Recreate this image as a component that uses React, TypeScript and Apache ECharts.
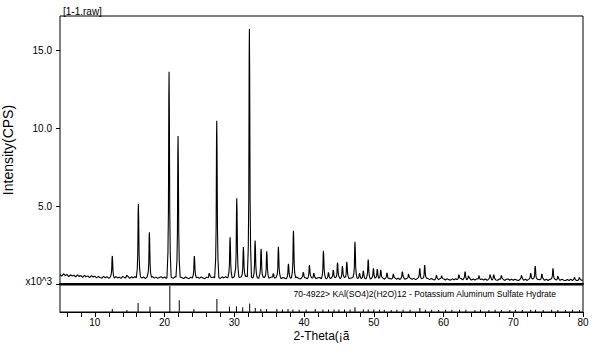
import React, { useEffect, useRef } from "react";
import * as echarts from "echarts";

const TITLE = "[1-1.raw]";
const X_TITLE = "2-Theta(¡ã";
const Y_TITLE = "Intensity(CPS)";
const PHASE_LABEL = "70-4922> KAl(SO4)2(H2O)12 - Potassium Aluminum Sulfate Hydrate";

const X_MIN = 5;
const X_MAX = 80;
const Y_MAX = 17180;

// measured background (counts), every 0.25 deg from 5.0 to 80.0
const BASE_START = 5;
const BASE_STEP = 0.25;
const baselineCounts = [
  600, 500, 660, 530, 620, 470, 590, 510, 560, 450, 580, 480, 540, 430, 560, 460, 520, 410, 540, 450,
  500, 390, 480, 420, 370, 490, 400, 470, 360, 460, 420, 350, 480, 390, 440, 360, 490, 410, 350, 460,
  370, 460, 390, 480, 360, 430, 470, 380, 450, 350, 460, 400, 360, 480, 380, 440, 360, 420, 470, 380,
  450, 370, 470, 390, 450, 360, 480, 400, 360, 460, 400, 350, 450, 380, 340, 440, 370, 460, 380, 430,
  360, 450, 380, 340, 440, 370, 470, 390, 450, 370, 480, 400, 360, 460, 390, 470, 400, 480, 410, 380,
  470, 390, 490, 410, 460, 380, 470, 500, 400, 480, 420, 380, 480, 410, 370, 470, 390, 450, 370, 440,
  360, 440, 380, 340, 430, 370, 450, 350, 420, 370, 330, 430, 360, 420, 340, 410, 440, 350, 330, 420,
  340, 410, 320, 400, 430, 340, 410, 330, 400, 420, 330, 390, 410, 320, 400, 340, 420, 330, 400, 340,
  410, 330, 400, 420, 340, 410, 320, 390, 420, 340, 400, 320, 390, 330, 410, 320, 380, 400, 310, 390,
  320, 390, 300, 380, 320, 400, 310, 370, 290, 380, 320, 300, 390, 310, 370, 290, 360, 380, 300, 360,
  290, 370, 300, 360, 280, 350, 370, 290, 360, 270, 340, 360, 280, 350, 290, 260, 340, 280, 350, 270,
  330, 260, 340, 280, 250, 330, 270, 340, 260, 320, 350, 270, 330, 260, 320, 340, 250, 320, 260, 330,
  270, 250, 330, 260, 320, 240, 310, 330, 250, 320, 260, 240, 320, 250, 310, 230, 300, 320, 240, 300,
  240, 310, 250, 230, 300, 320, 240, 300, 230, 310, 250, 320, 300, 240, 330, 270, 250, 320, 240, 300,
  230, 300, 320, 240, 300, 230, 290, 220, 300, 240, 220, 290, 230, 300, 220, 280, 230, 210, 290, 230,
  260,
];

// measured diffraction peaks: 2-theta (deg) and peak-top intensity (counts)
const peakPositions = [
  12.5, 14.6, 16.24, 17.82, 20.64, 21.93, 24.27, 26.4, 27.48, 29.39,
  30.35, 31.3, 32.16, 32.98, 33.84, 34.65, 35.6, 36.32, 37.76, 38.48,
  39.9, 40.77, 41.4, 42.78, 43.5, 44.2, 44.8, 45.5, 46.13, 47.3,
  47.95, 48.5, 49.2, 49.95, 50.5, 51.0, 51.9, 52.8, 54.1, 55.0,
  56.6, 57.3, 59.0, 59.75, 62.2, 63.1, 63.6, 65.1, 66.7, 67.2,
  68.3, 71.2, 72.5, 73.15, 74.1, 75.7, 76.4, 78.8, 79.5,
];
const peakHeights = [
  1800, 600, 5130, 3310, 13600, 9490, 1790, 700, 10470, 2990,
  5490, 2370, 16350, 2790, 2260, 2100, 700, 2380, 1300, 3420,
  790, 1220, 700, 2130, 750, 900, 1370, 1150, 1430, 2710,
  700, 850, 1560, 1000, 950, 900, 750, 650, 790, 680,
  1000, 1220, 600, 550, 600, 790, 550, 580, 650, 600,
  550, 600, 700, 1150, 650, 1000, 550, 450, 450,
];

// reference pattern 70-4922 (relative intensity, %)
const refPositions = [
  12.5, 14.6, 16.2, 17.9, 20.75, 22.1, 24.2, 27.5, 29.3, 30.3,
  31.2, 32.2, 33.0, 33.8, 34.6, 36.1, 36.9, 37.7, 38.4, 39.3,
  40.3, 41.6, 42.7, 43.5, 44.3, 45.0, 45.8, 46.6, 47.3, 48.5,
  49.2, 50.0, 50.8, 51.5, 52.5, 53.3, 54.2, 55.2, 56.6, 57.4,
  58.3, 59.3, 60.3, 61.2, 62.3, 63.2, 64.5, 65.3, 66.5, 67.4,
  68.3, 69.5, 70.3, 71.3, 72.5, 73.2, 74.3, 75.5, 76.4, 77.5,
  78.5, 79.5,
];
const refIntensities = [
  12, 8, 35, 20, 100, 45, 12, 50, 20, 22,
  18, 33, 15, 12, 12, 12, 10, 12, 10, 9,
  10, 12, 10, 10, 10, 10, 10, 10, 18, 10,
  10, 10, 9, 9, 8, 9, 9, 9, 15, 9,
  9, 8, 9, 9, 9, 9, 8, 9, 8, 9,
  8, 8, 9, 8, 9, 9, 8, 9, 8, 8,
  9, 8,
];

const xTickValues = [
  6, 8, 10, 12, 14, 16, 18, 20, 22, 24, 26, 28, 30, 32, 34, 36, 38, 40, 42, 44,
  46, 48, 50, 52, 54, 56, 58, 60, 62, 64, 66, 68, 70, 72, 74, 76, 78, 80,
];
const xLabelValues = [10, 20, 30, 40, 50, 60, 70, 80];
const yTickValues = [0, 5000, 10000, 15000];

const FONT = "'Liberation Sans', Arial, sans-serif";

// peak profile shape (offset in degrees, fraction of peak height above background)
const PROFILE_DX = [-0.3, -0.16, -0.09, -0.035, 0, 0.04, 0.1, 0.17, 0.3];
const PROFILE_FR = [0, 0.12, 0.32, 0.88, 1, 0.82, 0.32, 0.12, 0];

function baseAt(x: number): number {
  const f = (x - BASE_START) / BASE_STEP;
  const i = Math.max(0, Math.min(baselineCounts.length - 2, Math.floor(f)));
  const t = Math.max(0, Math.min(1, f - i));
  return baselineCounts[i] * (1 - t) + baselineCounts[i + 1] * t;
}

function buildTrace(): [number, number][] {
  const pts: [number, number][] = [];
  baselineCounts.forEach((v, i) => {
    const x = BASE_START + i * BASE_STEP;
    if (!peakPositions.some((p) => Math.abs(p - x) < 0.3)) pts.push([x, v]);
  });
  peakPositions.forEach((p, k) => {
    const b = baseAt(p);
    PROFILE_DX.forEach((dx, j) => {
      pts.push([p + dx, baseAt(p + dx) + (peakHeights[k] - b) * PROFILE_FR[j]]);
    });
  });
  pts.sort((a, b) => a[0] - b[0]);
  return pts;
}

export default function App() {
  const ref = useRef<HTMLDivElement>(null);
  useEffect(() => {
    if (!ref.current) return;
    const chart = echarts.init(ref.current, null, { renderer: "svg" });
    const option: any = {
      animation: false,
      backgroundColor: "#fff",
      textStyle: { fontFamily: FONT },
      grid: [
        { left: 60, top: 16, width: 523, height: 268, show: true, borderColor: "#000", borderWidth: 1, outerBoundsMode: "none" },
        { left: 60, top: 285, width: 523, height: 27, show: true, borderColor: "#000", borderWidth: 1, outerBoundsMode: "none" },
      ],
      xAxis: [
        {
          gridIndex: 0, type: "value", min: X_MIN, max: X_MAX,
          axisLine: { show: true, lineStyle: { color: "#000", width: 2 } },
          axisTick: { show: false }, axisLabel: { show: false }, splitLine: { show: false },
        },
        {
          gridIndex: 1, type: "value", min: X_MIN, max: X_MAX,
          axisLine: { show: true, lineStyle: { color: "#000", width: 1 } },
          axisTick: { show: true, customValues: xTickValues, length: 5, lineStyle: { color: "#000", width: 1 } },
          axisLabel: { customValues: xLabelValues, color: "#000", fontSize: 10, fontFamily: FONT, margin: 5 },
          splitLine: { show: false },
          name: X_TITLE, nameLocation: "middle", nameGap: 18,
          nameTextStyle: { color: "#000", fontSize: 12, fontFamily: FONT },
        },
      ],
      yAxis: [
        {
          gridIndex: 0, type: "value", min: 0, max: Y_MAX,
          axisLine: { show: false },
          axisTick: { show: true, customValues: yTickValues, length: 4, lineStyle: { color: "#000" } },
          axisLabel: {
            customValues: yTickValues, color: "#000", fontSize: 10, fontFamily: FONT, margin: 8,
            formatter: (v: number) => (v === 0 ? "{e|x10^3}" : (v / 1000).toFixed(1)),
            rich: { e: { fontSize: 10, fontFamily: FONT, color: "#000", padding: [0, 0, 6, 0] } },
          },
          splitLine: { show: false },
          name: Y_TITLE, nameLocation: "middle", nameGap: 35, nameRotate: 90,
          nameTextStyle: { color: "#000", fontSize: 14, fontFamily: FONT },
        },
        {
          gridIndex: 1, type: "value", min: 0, max: 104,
          axisLine: { show: false }, axisTick: { show: false }, axisLabel: { show: false }, splitLine: { show: false },
        },
      ],
      series: [
        {
          type: "line", xAxisIndex: 0, yAxisIndex: 0, data: buildTrace(),
          showSymbol: false, symbol: "none", lineStyle: { color: "#000", width: 1.1 }, clip: true,
        },
        {
          type: "bar", xAxisIndex: 1, yAxisIndex: 1,
          data: refPositions.map((p, i) => [p, refIntensities[i]]),
          barWidth: 1, itemStyle: { color: "#000" },
        },
      ],
      graphic: [
        {
          type: "text", x: 63, y: 11,
          style: { text: TITLE, fontSize: 10, fontFamily: FONT, fill: "#000", verticalAlign: "middle" },
        },
        {
          type: "text", x: 556, y: 294,
          style: { text: PHASE_LABEL, fontSize: 8.6, fontFamily: FONT, fill: "#000", align: "right", verticalAlign: "middle" },
        },
      ],
    };
    chart.setOption(option);
    return () => chart.dispose();
  }, []);
  return <div ref={ref} style={{ position: "fixed", left: 0, top: 0, width: 604, height: 353 }} />;
}
